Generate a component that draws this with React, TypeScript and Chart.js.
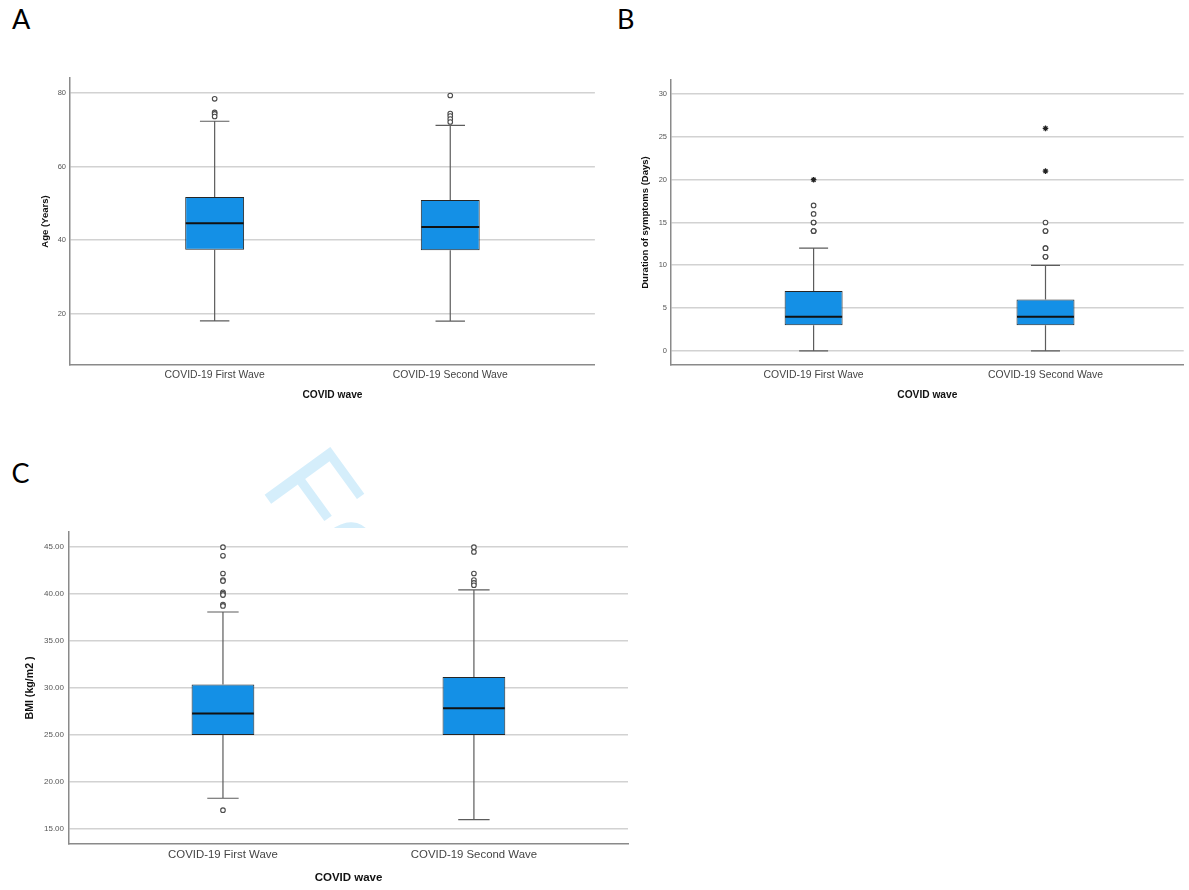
import { useEffect, useRef } from "react";
import { Chart, registerables } from "chart.js";

Chart.register(...registerables);

const FONT = "'Liberation Sans', Arial, sans-serif";
Chart.defaults.font.family = FONT;

// Shared categories (x positions 1 and 2 on a linear axis)
const waves = ["COVID-19 First Wave", "COVID-19 Second Wave"];
const wavePositions = [1, 2];

// A: Age (Years)
const ageLowerWhisker = [18.1, 18.0];
const ageQ1 = [37.4, 37.3];
const ageMedian = [44.6, 43.6];
const ageQ3 = [51.7, 50.9];
const ageUpperWhisker = [72.3, 71.2];
const ageOutliersFirst = [78.4, 74.7, 74.3, 73.6];
const ageOutliersSecond = [79.3, 74.4, 73.7, 72.9, 72.1];
const ageExtremesFirst: number[] = [];
const ageExtremesSecond: number[] = [];
const ageTicks = [20, 40, 60, 80];

// B: Duration of symptoms (Days)
const durationLowerWhisker = [0, 0];
const durationQ1 = [3, 3];
const durationMedian = [4, 4];
const durationQ3 = [7, 6];
const durationUpperWhisker = [12, 10];
const durationOutliersFirst = [14, 14, 14, 15, 15, 16, 17];
const durationOutliersSecond = [11, 11, 12, 12, 14, 14, 15];
const durationExtremesFirst = [20];
const durationExtremesSecond = [26, 21];
const durationTicks = [0, 5, 10, 15, 20, 25, 30];

// C: BMI (kg/m2)
const bmiLowerWhisker = [18.27, 16.0];
const bmiQ1 = [25.0, 25.0];
const bmiMedian = [27.3, 27.85];
const bmiQ3 = [30.38, 31.17];
const bmiUpperWhisker = [38.1, 40.46];
const bmiOutliersFirst = [45.0, 44.08, 42.2, 41.5, 41.4, 40.2, 40.05, 39.9, 38.9, 38.75, 17.0];
const bmiOutliersSecond = [45.0, 44.5, 42.2, 41.5, 41.2, 40.95];
const bmiExtremesFirst: number[] = [];
const bmiExtremesSecond: number[] = [];
const bmiTicks = [15, 20, 25, 30, 35, 40, 45];

type Geometry = {
  left: number;
  top: number;
  width: number;
  height: number;
  padTop: number;
  padRight: number;
  padBottom: number;
  yAxisWidth: number;
  xAxisHeight: number;
  yTitlePad: number;
  xMin: number;
  xMax: number;
};

type Panel = {
  yTitle: string;
  yMin: number;
  yMax: number;
  yTicks: number[];
  decimals: number;
  lower: number[];
  q1: number[];
  median: number[];
  q3: number[];
  upper: number[];
  outliers: number[][];
  extremes: number[][];
  fonts: { tick: number; category: number; xTitle: number; yTitle: number };
  tickPad: number;
  geom: Geometry;
};

const panelA: Panel = {
  yTitle: "Age (Years)",
  yMin: 6.1,
  yMax: 84.05,
  yTicks: ageTicks,
  decimals: 0,
  lower: ageLowerWhisker,
  q1: ageQ1,
  median: ageMedian,
  q3: ageQ3,
  upper: ageUpperWhisker,
  outliers: [ageOutliersFirst, ageOutliersSecond],
  extremes: [ageExtremesFirst, ageExtremesSecond],
  fonts: { tick: 7.5, category: 10.4, xTitle: 10.2, yTitle: 9.5 },
  tickPad: 4,
  geom: {
    left: 0, top: 40, width: 600, height: 380,
    padTop: 38, padRight: 4, padBottom: 19,
    yAxisWidth: 70, xAxisHeight: 36, yTitlePad: 39.5,
    xMin: 0.386, xMax: 2.614,
  },
};

const panelB: Panel = {
  yTitle: "Duration of symptoms (Days)",
  yMin: -1.65,
  yMax: 31.65,
  yTicks: durationTicks,
  decimals: 0,
  lower: durationLowerWhisker,
  q1: durationQ1,
  median: durationMedian,
  q3: durationQ3,
  upper: durationUpperWhisker,
  outliers: [durationOutliersFirst, durationOutliersSecond],
  extremes: [durationExtremesFirst, durationExtremesSecond],
  fonts: { tick: 7.5, category: 10.4, xTitle: 10.2, yTitle: 9.5 },
  tickPad: 4,
  geom: {
    left: 600, top: 40, width: 589, height: 380,
    padTop: 40, padRight: 0, padBottom: 19,
    yAxisWidth: 71, xAxisHeight: 36, yTitlePad: 39.5,
    xMin: 0.385, xMax: 2.596,
  },
};

const panelC: Panel = {
  yTitle: "BMI (kg/m2 )",
  yMin: 13.4,
  yMax: 46.62,
  yTicks: bmiTicks,
  decimals: 2,
  lower: bmiLowerWhisker,
  q1: bmiQ1,
  median: bmiMedian,
  q3: bmiQ3,
  upper: bmiUpperWhisker,
  outliers: [bmiOutliersFirst, bmiOutliersSecond],
  extremes: [bmiExtremesFirst, bmiExtremesSecond],
  fonts: { tick: 8, category: 11.4, xTitle: 11.5, yTitle: 10.6 },
  tickPad: 5,
  geom: {
    left: 0, top: 495, width: 640, height: 395,
    padTop: 37, padRight: 12, padBottom: 5,
    yAxisWidth: 69, xAxisHeight: 41, yTitlePad: 24,
    xMin: 0.3865, xMax: 2.614,
  },
};

function BoxChart({ panel }: { panel: Panel }) {
  const ref = useRef<HTMLCanvasElement>(null);
  const g = panel.geom;

  useEffect(() => {
    const canvas = ref.current;
    if (!canvas) return;
    const p = panel;

    // Whiskers, caps and median line drawn over the box dataset
    const whiskers = {
      id: "whiskers",
      afterDatasetDraw(chart: any, args: any) {
        if (args.index !== 0) return;
        const { ctx } = chart;
        const xs = chart.scales.x;
        const ys = chart.scales.y;
        const bars = chart.getDatasetMeta(0).data;
        ctx.save();
        wavePositions.forEach((pos, i) => {
          const cx = xs.getPixelForValue(pos);
          const w = bars[i].width;
          const yLow = ys.getPixelForValue(p.lower[i]);
          const yQ1 = ys.getPixelForValue(p.q1[i]);
          const yQ3 = ys.getPixelForValue(p.q3[i]);
          const yUp = ys.getPixelForValue(p.upper[i]);
          const yMed = ys.getPixelForValue(p.median[i]);
          ctx.strokeStyle = "#5c5c5c";
          ctx.lineWidth = 1.2;
          ctx.beginPath();
          ctx.moveTo(cx, yQ1);
          ctx.lineTo(cx, yLow);
          ctx.moveTo(cx, yQ3);
          ctx.lineTo(cx, yUp);
          ctx.moveTo(cx - w / 4, yLow);
          ctx.lineTo(cx + w / 4, yLow);
          ctx.moveTo(cx - w / 4, yUp);
          ctx.lineTo(cx + w / 4, yUp);
          ctx.stroke();
          ctx.strokeStyle = "#111111";
          ctx.lineWidth = 2;
          ctx.beginPath();
          ctx.moveTo(cx - w / 2 + 0.5, yMed);
          ctx.lineTo(cx + w / 2 - 0.5, yMed);
          ctx.stroke();
        });
        ctx.restore();
      },
    };

    const outlierPoints = wavePositions.flatMap((pos, i) =>
      p.outliers[i].map((v) => ({ x: pos, y: v }))
    );
    const extremePoints = wavePositions.flatMap((pos, i) =>
      p.extremes[i].map((v) => ({ x: pos, y: v }))
    );

    const chart = new Chart(canvas, {
      type: "bar",
      data: {
        datasets: [
          {
            type: "bar",
            data: wavePositions.map((pos, i) => ({ x: pos, y: [p.q1[i], p.q3[i]] })) as any,
            backgroundColor: "#1490e6",
            borderColor: "#262626",
            borderWidth: 1,
            borderSkipped: false,
            categoryPercentage: 0.25,
            barPercentage: 1,
            order: 3,
          },
          {
            type: "scatter",
            data: outlierPoints,
            pointStyle: "circle",
            pointRadius: 2.3,
            borderWidth: 1.1,
            borderColor: "#4a4a4a",
            backgroundColor: "#ffffff",
            showLine: false,
            order: 1,
          } as any,
          {
            type: "scatter",
            data: extremePoints,
            pointStyle: "star",
            pointRadius: 2.8,
            borderWidth: 1.3,
            borderColor: "#222222",
            backgroundColor: "#222222",
            showLine: false,
            order: 0,
          } as any,
        ],
      },
      options: {
        animation: false,
        responsive: false,
        events: [],
        layout: {
          padding: { top: g.padTop, right: g.padRight, bottom: g.padBottom, left: 0 },
        },
        plugins: {
          legend: { display: false },
          tooltip: { enabled: false },
        },
        scales: {
          x: {
            type: "linear",
            min: g.xMin,
            max: g.xMax,
            offset: false,
            afterBuildTicks: (s: any) => {
              s.ticks = wavePositions.map((v) => ({ value: v }));
            },
            afterFit: (s: any) => {
              s.height = g.xAxisHeight;
            },
            grid: { display: false, drawTicks: false },
            border: { display: true, color: "#8a8a8a", width: 1.5 },
            ticks: {
              padding: 4,
              color: "#444444",
              autoSkip: false,
              maxRotation: 0,
              font: { size: p.fonts.category, family: FONT },
              callback: (v: any) => waves[wavePositions.indexOf(Number(v))] ?? "",
            },
            title: {
              display: true,
              text: "COVID wave",
              color: "#111111",
              font: { size: p.fonts.xTitle, weight: "bold", family: FONT },
              padding: { top: 0, bottom: 0 },
            },
          },
          y: {
            type: "linear",
            min: p.yMin,
            max: p.yMax,
            afterBuildTicks: (s: any) => {
              s.ticks = p.yTicks.map((v) => ({ value: v }));
            },
            afterFit: (s: any) => {
              s.width = g.yAxisWidth;
            },
            grid: { color: "#d2d2d2", lineWidth: 1.6, drawTicks: false },
            border: { display: true, color: "#8a8a8a", width: 1.5 },
            ticks: {
              padding: p.tickPad,
              color: "#555555",
              font: { size: p.fonts.tick, family: FONT },
              callback: (v: any) => Number(v).toFixed(p.decimals),
            },
            title: {
              display: true,
              text: p.yTitle,
              color: "#111111",
              font: { size: p.fonts.yTitle, weight: "bold", family: FONT },
              padding: { top: g.yTitlePad, bottom: 0 },
            },
          },
        },
      } as any,
      plugins: [whiskers],
    });
    return () => chart.destroy();
  }, [panel]);

  return (
    <canvas
      ref={ref}
      width={g.width}
      height={g.height}
      style={{ position: "absolute", left: g.left, top: g.top, width: g.width, height: g.height }}
    />
  );
}

const letterStyle = (left: number, top: number): React.CSSProperties => ({
  position: "absolute",
  left,
  top,
  fontFamily: "Lato, 'Open Sans', sans-serif",
  fontSize: 27,
  lineHeight: "27px",
  color: "#000",
});

export default function App() {
  return (
    <div
      style={{
        position: "absolute",
        left: 0,
        top: 0,
        width: 1189,
        height: 890,
        background: "#ffffff",
        overflow: "hidden",
      }}
    >
      {/* faint review watermark, partly hidden under the lower panel */}
      <div
        style={{
          position: "absolute",
          left: 0,
          top: 420,
          width: 640,
          height: 107.5,
          overflow: "hidden",
        }}
      >
        <span
          style={{
            position: "absolute",
            left: 259.3,
            top: 487.2 - 420 - 99.9,
            fontFamily: FONT,
            fontSize: 118,
            lineHeight: "118px",
            color: "#d5eefb",
            whiteSpace: "nowrap",
            transformOrigin: "0px 99.9px",
            transform: "rotate(54deg)",
          }}
        >
          For
        </span>
      </div>
      <div style={letterStyle(12, 5)}>A</div>
      <div style={letterStyle(617, 5)}>B</div>
      <div style={letterStyle(11.5, 458.5)}>C</div>
      <BoxChart panel={panelA} />
      <BoxChart panel={panelB} />
      <BoxChart panel={panelC} />
    </div>
  );
}
